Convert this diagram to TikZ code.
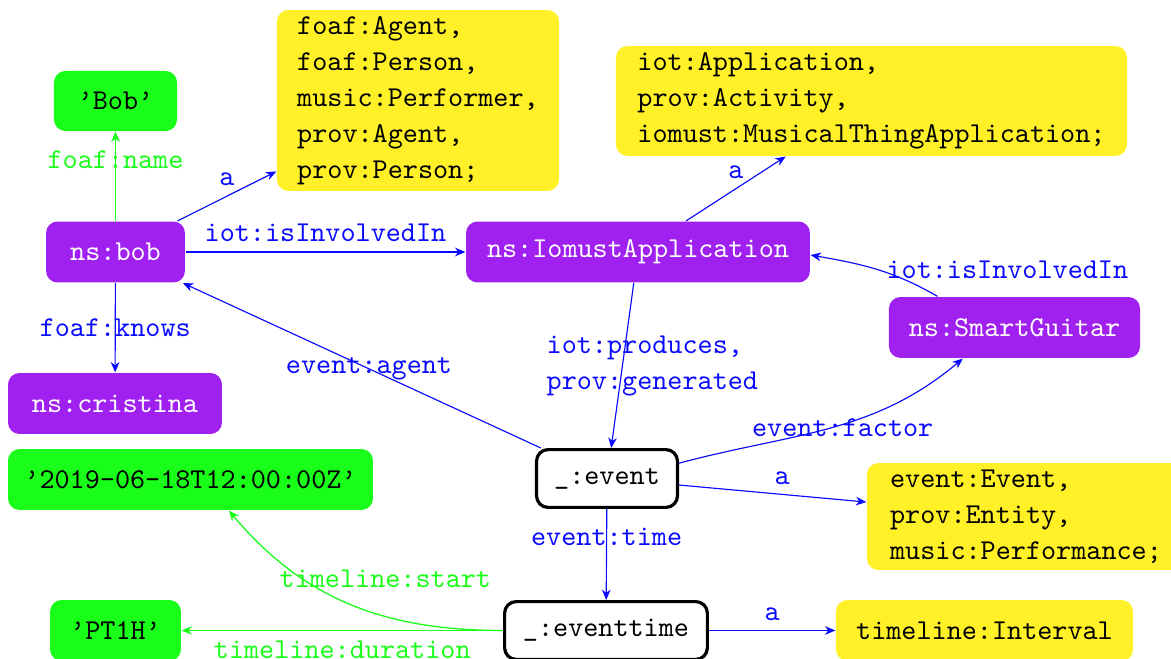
\documentclass[tikz,border=0pt]{standalone}
\usetikzlibrary{arrows.meta}
\definecolor{nodepurple}{RGB}{160,32,240}
\definecolor{nodegreen}{RGB}{25,255,25}
\definecolor{nodeyellow}{RGB}{255,240,40}
\definecolor{edgeblue}{RGB}{10,10,255}
\definecolor{edgegreen}{RGB}{25,255,25}
\begin{document}
\begin{tikzpicture}[x=0.3477pt,y=0.3477pt,
  base/.style={rounded corners=4pt, font=\ttfamily, inner sep=0pt, align=center},
  res/.style={base, fill=nodepurple, text=white},
  lit/.style={base, fill=nodegreen},
  typ/.style={base, fill=nodeyellow, align=left, font=\fontsize{10}{12.5}\selectfont\ttfamily},
  blank/.style={base, draw=black, line width=1.1pt, fill=white},
  tip/.style={-{Stealth[length=3.6pt,width=3pt,inset=1.1pt]}},
  rel/.style={draw=edgeblue, line width=0.4pt, tip},
  grel/.style={draw=edgegreen, line width=0.45pt, tip},
  lbl/.style={font=\fontsize{10}{12.5}\selectfont\ttfamily, text=edgeblue},
  glbl/.style={lbl, text=edgegreen},
]
\useasboundingbox (0,0) rectangle (1171,659);

% resources
\node[res, minimum width=48.3pt, minimum height=21.2pt] (bob) at (115.5,407) {ns:bob};
\node[res, minimum width=74.4pt, minimum height=21.2pt] (cristina) at (115,255.5) {ns:cristina};
\node[res, minimum width=119.6pt, minimum height=21.2pt] (iomust) at (638,407) {ns:IomustApplication};
\node[res, minimum width=87.3pt, minimum height=21.2pt] (sg) at (1014.5,331.5) {ns:SmartGuitar};

% literals
\node[lit, minimum width=42.8pt, minimum height=20.9pt] (bobname) at (115.5,558) {’Bob’};
\node[lit, minimum width=126.9pt, minimum height=21.2pt] (t2019) at (190.5,179.5) {’2019-06-18T12:00:00Z’};
\node[lit, minimum width=45.5pt, minimum height=21.2pt] (pt1h) at (115.5,28.5) {’PT1H’};

% types
\node[typ, minimum width=98.1pt, minimum height=62.9pt, inner ysep=1pt] (bobtypes) at (418,558.5)
  {foaf:Agent,\\foaf:Person,\\music:Performer,\\prov:Agent,\\prov:Person;};
\node[typ, minimum width=177.7pt, minimum height=38.2pt, inner ysep=1pt] (apptypes) at (871.5,558)
  {iot:Application,\\prov:Activity,\\iomust:MusicalThingApplication;};
\node[typ, minimum width=110.6pt, minimum height=37.2pt, inner ysep=1pt] (eventtypes) at (1026,142.5)
  {event:Event,\\prov:Entity,\\music:Performance;};
\node[typ, align=center, minimum width=103.3pt, minimum height=21.2pt] (interval) at (984.5,28.5) {timeline:Interval};

% blank nodes
\node[blank, minimum width=49pt, minimum height=20.1pt] (event) at (607,180.5) {\_:event};
\node[blank, minimum width=70.5pt, minimum height=20.1pt] (eventtime) at (606,28.5) {\_:eventtime};

% relations
\draw[grel] (bob) -- node[glbl, pos=0.69] {foaf:name} (bobname);
\draw[rel] (bob) -- node[lbl, above] {a} (bobtypes);
\draw[rel] (bob) -- node[lbl, above] {iot:isInvolvedIn} (iomust);
\draw[rel] (bob) -- node[lbl] {foaf:knows} (cristina);
\draw[rel] (event) -- node[lbl, pos=0.48] {event:agent} (bob);
\draw[rel] (iomust) -- node[lbl, above] {a} (apptypes);
\draw[rel] (iomust) -- node[lbl, xshift=10.4pt, align=left] {iot:produces,\\prov:generated} (event);
\draw[rel] (sg.158.5) to[out=150,in=-10] node[lbl, right] {iot:isInvolvedIn} (iomust.-1.3);
\draw[rel] (event.12) to[out=15,in=220] node[lbl, xshift=4.5pt] {event:factor} (sg.211);
\draw[rel] (event) -- node[lbl, above, pos=0.55] {a} (eventtypes);
\draw[rel] (event) -- node[lbl, pos=0.31] {event:time} (eventtime);
\draw[grel] (eventtime.west) to[out=180,in=-50] node[glbl, xshift=12.2pt, yshift=8.7pt] {timeline:start} (t2019.-39);
\draw[grel] (eventtime) -- node[glbl, below] {timeline:duration} (pt1h);
\draw[rel] (eventtime) -- node[lbl, above] {a} (interval);
\end{tikzpicture}
\end{document}
